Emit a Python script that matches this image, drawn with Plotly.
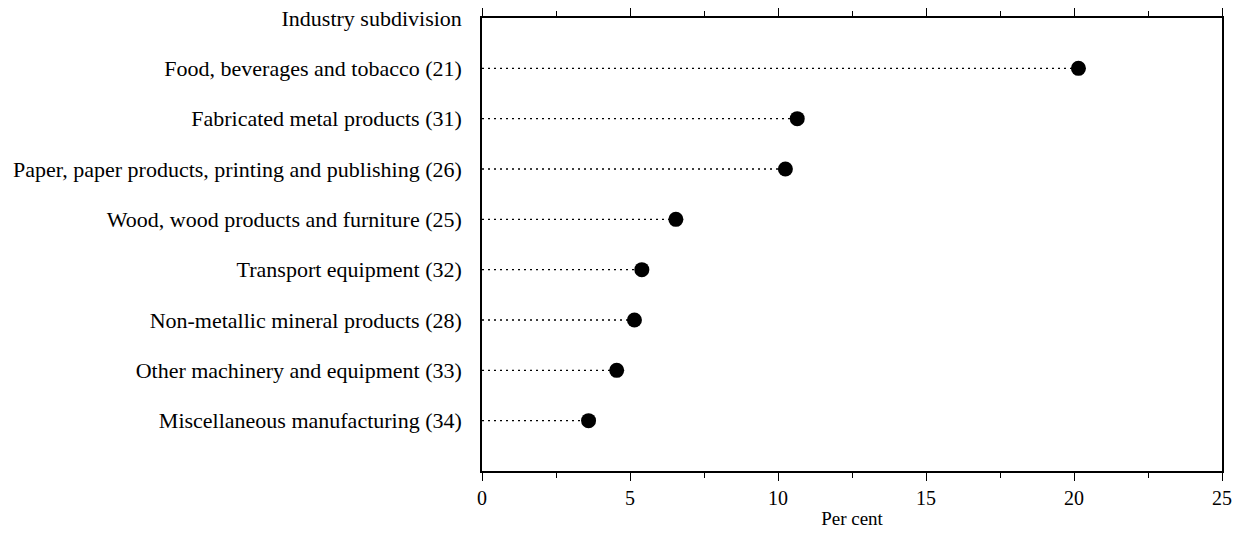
import plotly.graph_objects as go

categories = [
    "Food, beverages and tobacco (21)",
    "Fabricated metal products (31)",
    "Paper, paper products, printing and publishing (26)",
    "Wood, wood products and furniture (25)",
    "Transport equipment (32)",
    "Non-metallic mineral products (28)",
    "Other machinery and equipment (33)",
    "Miscellaneous manufacturing (34)",
]
values = [20.15, 10.65, 10.25, 6.55, 5.4, 5.15, 4.55, 3.6]
header_label = "Industry subdivision"
x_ticks = [0, 5, 10, 15, 20, 25]

n = len(categories)
ypos = [n - i for i in range(n)]  # 8 .. 1

fig = go.Figure()
for yv, v in zip(ypos, values):
    fig.add_trace(go.Scatter(
        x=[0, v], y=[yv, yv], mode="lines",
        line=dict(color="black", width=1.3, dash="2px,4px"),
        showlegend=False, hoverinfo="skip"))
fig.add_trace(go.Scatter(
    x=values, y=ypos, mode="markers",
    marker=dict(color="black", size=15),
    showlegend=False))

font_family = "Liberation Serif, Times New Roman, serif"
fig.update_layout(
    width=1240, height=539,
    margin=dict(l=482, r=18, t=18, b=68, autoexpand=False),
    paper_bgcolor="white", plot_bgcolor="white",
    font=dict(family=font_family, size=22, color="black"),
    xaxis=dict(
        range=[0, 25], tickvals=x_ticks, ticktext=[str(t) for t in x_ticks],
        ticks="outside", ticklen=8, tickwidth=1.2, tickcolor="black",
        minor=dict(ticks="outside", dtick=2.5, ticklen=5, tickcolor="black", tickwidth=1.2),
        showline=True, linecolor="black", linewidth=1.5, mirror="allticks",
        showgrid=False, zeroline=False, automargin=False,
        tickfont=dict(size=20),
        title=dict(text="Per cent", font=dict(size=19), standoff=4),
    ),
    yaxis=dict(
        range=[0, n + 1],
        tickvals=ypos + [n + 1], ticktext=categories + [header_label],
        ticks="", showline=True, linecolor="black", linewidth=1.5, mirror=True,
        showgrid=False, zeroline=False, ticklabelstandoff=14, automargin=False,
        ticklabeloverflow="allow",
        tickfont=dict(size=22),
    ),
)

fig.write_html("out.html", config={"displayModeBar": False},
               post_script="document.body.style.margin='0';")
